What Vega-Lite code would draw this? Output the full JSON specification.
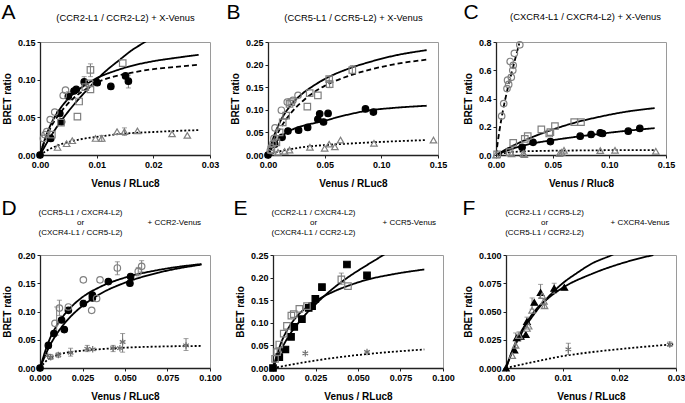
{
"$schema": "https://vega.github.io/schema/vega-lite/v6.json",
"padding": {"left": 0, "top": 0, "right": 0, "bottom": 0},
"autosize": {"type": "pad"},
"config": {
 "font": "Liberation Sans",
 "view": {"stroke": "#9a9a9a", "strokeWidth": 1},
 "axis": {"grid": false, "labelFont": "Liberation Sans", "labelFontSize": 9, "labelFontWeight": "bold", "labelColor": "#000", "titleFont": "Liberation Sans", "titleFontSize": 10, "titleFontWeight": "bold", "titleColor": "#000", "domainColor": "#222", "domainWidth": 1.3, "tickColor": "#222", "tickSize": 3, "labelPadding": 2, "labelFlush": false, "labelOverlap": false, "labelBound": false},
 "axisX": {"titlePadding": 9},
 "axisY": {"titlePadding": 5}
},
"datasets": {
"pts": [
{"p":"A","g":"fc","x":0,"y":0},{"p":"A","g":"fc","x":0.0019,"y":0.022},{"p":"A","g":"fc","x":0.0035,"y":0.055},{"p":"A","g":"fc","x":0.0038,"y":0.044},{"p":"A","g":"fc","x":0.005,"y":0.078},{"p":"A","g":"fc","x":0.006,"y":0.085},{"p":"A","g":"fc","x":0.0064,"y":0.087},{"p":"A","g":"fc","x":0.0078,"y":0.097},{"p":"A","g":"fc","x":0.0101,"y":0.096},{"p":"A","g":"fc","x":0.0125,"y":0.091},{"p":"A","g":"fc","x":0.0151,"y":0.105},{"p":"A","g":"fc","x":0.0156,"y":0.098},
{"p":"A","g":"oc","x":0.0006,"y":0.022},{"p":"A","g":"oc","x":0.0009,"y":0.027},{"p":"A","g":"oc","x":0.0012,"y":0.031},{"p":"A","g":"oc","x":0.0018,"y":0.047},{"p":"A","g":"oc","x":0.0026,"y":0.057},{"p":"A","g":"oc","x":0.0041,"y":0.079},{"p":"A","g":"oc","x":0.0045,"y":0.086},
{"p":"A","g":"os","x":0.0021,"y":0.027},{"p":"A","g":"os","x":0.0037,"y":0.043},{"p":"A","g":"os","x":0.0066,"y":0.051},{"p":"A","g":"os","x":0.0069,"y":0.071},{"p":"A","g":"os","x":0.008,"y":0.09},{"p":"A","g":"os","x":0.0087,"y":0.095},{"p":"A","g":"os","x":0.0089,"y":0.087},{"p":"A","g":"os","x":0.0089,"y":0.113},{"p":"A","g":"os","x":0.0146,"y":0.122},
{"p":"A","g":"ot","x":0.0031,"y":0.01},{"p":"A","g":"ot","x":0.0047,"y":0.015},{"p":"A","g":"ot","x":0.0057,"y":0.019},{"p":"A","g":"ot","x":0.0098,"y":0.022},{"p":"A","g":"ot","x":0.0109,"y":0.022},{"p":"A","g":"ot","x":0.0136,"y":0.031},{"p":"A","g":"ot","x":0.0149,"y":0.031},{"p":"A","g":"ot","x":0.0172,"y":0.032},{"p":"A","g":"ot","x":0.0233,"y":0.028},{"p":"A","g":"ot","x":0.026,"y":0.026},
{"p":"B","g":"fc","x":0,"y":0},{"p":"B","g":"fc","x":0.0059,"y":0.024},{"p":"B","g":"fc","x":0.0124,"y":0.039},{"p":"B","g":"fc","x":0.0176,"y":0.053},{"p":"B","g":"fc","x":0.027,"y":0.055},{"p":"B","g":"fc","x":0.035,"y":0.061},{"p":"B","g":"fc","x":0.044,"y":0.079},{"p":"B","g":"fc","x":0.0456,"y":0.091},{"p":"B","g":"fc","x":0.049,"y":0.073},{"p":"B","g":"fc","x":0.053,"y":0.092},{"p":"B","g":"fc","x":0.086,"y":0.102},{"p":"B","g":"fc","x":0.093,"y":0.095},
{"p":"B","g":"os","x":0.003,"y":0.012},{"p":"B","g":"os","x":0.0074,"y":0.028},{"p":"B","g":"os","x":0.0103,"y":0.05},{"p":"B","g":"os","x":0.013,"y":0.072},{"p":"B","g":"os","x":0.016,"y":0.087},{"p":"B","g":"os","x":0.019,"y":0.113},{"p":"B","g":"os","x":0.0206,"y":0.117},{"p":"B","g":"os","x":0.0347,"y":0.107},{"p":"B","g":"os","x":0.0368,"y":0.137},{"p":"B","g":"os","x":0.044,"y":0.132},{"p":"B","g":"os","x":0.0544,"y":0.157},{"p":"B","g":"os","x":0.054,"y":0.168},{"p":"B","g":"os","x":0.0744,"y":0.188},
{"p":"B","g":"oc","x":0.002,"y":0.01},{"p":"B","g":"oc","x":0.003,"y":0.017},{"p":"B","g":"oc","x":0.0044,"y":0.025},{"p":"B","g":"oc","x":0.0053,"y":0.037},{"p":"B","g":"oc","x":0.0062,"y":0.06},{"p":"B","g":"oc","x":0.0118,"y":0.099},{"p":"B","g":"oc","x":0.017,"y":0.117},{"p":"B","g":"oc","x":0.022,"y":0.121},{"p":"B","g":"oc","x":0.0265,"y":0.132},
{"p":"B","g":"ot","x":0.0088,"y":0.006},{"p":"B","g":"ot","x":0.0147,"y":0.008},{"p":"B","g":"ot","x":0.019,"y":0.011},{"p":"B","g":"ot","x":0.037,"y":0.017},{"p":"B","g":"ot","x":0.05,"y":0.015},{"p":"B","g":"ot","x":0.054,"y":0.024},{"p":"B","g":"ot","x":0.059,"y":0.018},{"p":"B","g":"ot","x":0.064,"y":0.033},{"p":"B","g":"ot","x":0.0935,"y":0.026},{"p":"B","g":"ot","x":0.146,"y":0.033},
{"p":"C","g":"oc","x":0.005,"y":0.276},{"p":"C","g":"oc","x":0.0068,"y":0.364},{"p":"C","g":"oc","x":0.0097,"y":0.47},{"p":"C","g":"oc","x":0.0102,"y":0.53},{"p":"C","g":"oc","x":0.0112,"y":0.5},{"p":"C","g":"oc","x":0.0125,"y":0.662},{"p":"C","g":"oc","x":0.0135,"y":0.55},{"p":"C","g":"oc","x":0.0148,"y":0.6},{"p":"C","g":"oc","x":0.0152,"y":0.635},{"p":"C","g":"oc","x":0.0162,"y":0.72},{"p":"C","g":"oc","x":0.021,"y":0.78},
{"p":"C","g":"fc","x":0.023,"y":0.055},{"p":"C","g":"fc","x":0.0327,"y":0.09},{"p":"C","g":"fc","x":0.048,"y":0.095},{"p":"C","g":"fc","x":0.0743,"y":0.133},{"p":"C","g":"fc","x":0.0839,"y":0.145},{"p":"C","g":"fc","x":0.092,"y":0.157},{"p":"C","g":"fc","x":0.094,"y":0.152},{"p":"C","g":"fc","x":0.1167,"y":0.169},{"p":"C","g":"fc","x":0.1269,"y":0.188},
{"p":"C","g":"os","x":0.001,"y":0.005},{"p":"C","g":"os","x":0.012,"y":0.02},{"p":"C","g":"os","x":0.0152,"y":0.086},{"p":"C","g":"os","x":0.0254,"y":0.114},{"p":"C","g":"os","x":0.028,"y":0.133},{"p":"C","g":"os","x":0.04,"y":0.181},{"p":"C","g":"os","x":0.047,"y":0.152},{"p":"C","g":"os","x":0.048,"y":0.162},{"p":"C","g":"os","x":0.052,"y":0.205},{"p":"C","g":"os","x":0.069,"y":0.233},{"p":"C","g":"os","x":0.075,"y":0.233},
{"p":"C","g":"ot","x":0,"y":0},{"p":"C","g":"ot","x":0.0137,"y":0.008},{"p":"C","g":"ot","x":0.024,"y":0.01},{"p":"C","g":"ot","x":0.025,"y":0.002},{"p":"C","g":"ot","x":0.056,"y":0.01},{"p":"C","g":"ot","x":0.058,"y":0.019},{"p":"C","g":"ot","x":0.06,"y":0.033},{"p":"C","g":"ot","x":0.092,"y":0.031},{"p":"C","g":"ot","x":0.105,"y":0.033},{"p":"C","g":"ot","x":0.141,"y":0.026},
{"p":"D","g":"fc","x":0,"y":0},{"p":"D","g":"fc","x":0.0049,"y":0.04},{"p":"D","g":"fc","x":0.0082,"y":0.061},{"p":"D","g":"fc","x":0.0127,"y":0.085},{"p":"D","g":"fc","x":0.0143,"y":0.068},{"p":"D","g":"fc","x":0.0167,"y":0.102},{"p":"D","g":"fc","x":0.0255,"y":0.114},{"p":"D","g":"fc","x":0.0308,"y":0.129},{"p":"D","g":"fc","x":0.0308,"y":0.124},{"p":"D","g":"fc","x":0.0402,"y":0.153},{"p":"D","g":"fc","x":0.0533,"y":0.162},{"p":"D","g":"fc","x":0.0529,"y":0.15},
{"p":"D","g":"oc","x":0.0088,"y":0.079},{"p":"D","g":"oc","x":0.0114,"y":0.106},{"p":"D","g":"oc","x":0.0167,"y":0.108},{"p":"D","g":"oc","x":0.0255,"y":0.156},{"p":"D","g":"oc","x":0.0304,"y":0.102},{"p":"D","g":"oc","x":0.0333,"y":0.123},{"p":"D","g":"oc","x":0.0353,"y":0.156},{"p":"D","g":"oc","x":0.0455,"y":0.177},{"p":"D","g":"oc","x":0.0578,"y":0.171},{"p":"D","g":"oc","x":0.0598,"y":0.18},
{"p":"D","g":"st","x":0.0045,"y":0.022},{"p":"D","g":"st","x":0.0063,"y":0.019},{"p":"D","g":"st","x":0.0108,"y":0.023},{"p":"D","g":"st","x":0.018,"y":0.027},{"p":"D","g":"st","x":0.0278,"y":0.034},{"p":"D","g":"st","x":0.031,"y":0.033},{"p":"D","g":"st","x":0.043,"y":0.035},{"p":"D","g":"st","x":0.047,"y":0.035},{"p":"D","g":"st","x":0.0486,"y":0.046},{"p":"D","g":"st","x":0.0859,"y":0.04},
{"p":"E","g":"fs","x":0,"y":0},{"p":"E","g":"fs","x":0.0037,"y":0.024},{"p":"E","g":"fs","x":0.0073,"y":0.041},{"p":"E","g":"fs","x":0.0106,"y":0.069},{"p":"E","g":"fs","x":0.0125,"y":0.091},{"p":"E","g":"fs","x":0.017,"y":0.108},{"p":"E","g":"fs","x":0.021,"y":0.133},{"p":"E","g":"fs","x":0.023,"y":0.137},{"p":"E","g":"fs","x":0.0249,"y":0.153},{"p":"E","g":"fs","x":0.0288,"y":0.179},{"p":"E","g":"fs","x":0.0435,"y":0.229},{"p":"E","g":"fs","x":0.0553,"y":0.205},
{"p":"E","g":"os","x":0.0012,"y":0.02},{"p":"E","g":"os","x":0.0024,"y":0.035},{"p":"E","g":"os","x":0.0037,"y":0.052},{"p":"E","g":"os","x":0.0063,"y":0.076},{"p":"E","g":"os","x":0.0082,"y":0.093},{"p":"E","g":"os","x":0.0108,"y":0.116},{"p":"E","g":"os","x":0.0122,"y":0.119},{"p":"E","g":"os","x":0.0155,"y":0.131},{"p":"E","g":"os","x":0.02,"y":0.137},{"p":"E","g":"os","x":0.0402,"y":0.196},{"p":"E","g":"os","x":0.0441,"y":0.181},
{"p":"E","g":"st","x":0.019,"y":0.0325},{"p":"E","g":"st","x":0.0553,"y":0.0354},
{"p":"F","g":"ft","x":0,"y":0},{"p":"F","g":"ft","x":0.0015,"y":0.0158},{"p":"F","g":"ft","x":0.0019,"y":0.0266},{"p":"F","g":"ft","x":0.0026,"y":0.028},{"p":"F","g":"ft","x":0.0035,"y":0.0295},{"p":"F","g":"ft","x":0.0037,"y":0.041},{"p":"F","g":"ft","x":0.005,"y":0.058},{"p":"F","g":"ft","x":0.0061,"y":0.0667},{"p":"F","g":"ft","x":0.0085,"y":0.0705},{"p":"F","g":"ft","x":0.0103,"y":0.0713},
{"p":"F","g":"ot","x":0.0011,"y":0.011},{"p":"F","g":"ot","x":0.0017,"y":0.02},{"p":"F","g":"ot","x":0.0023,"y":0.0287},{"p":"F","g":"ot","x":0.0037,"y":0.035},{"p":"F","g":"ot","x":0.004,"y":0.037},{"p":"F","g":"ot","x":0.0046,"y":0.051},{"p":"F","g":"ot","x":0.0067,"y":0.059},{"p":"F","g":"ot","x":0.0068,"y":0.055},{"p":"F","g":"ot","x":0.0064,"y":0.064},
{"p":"F","g":"st","x":0.011,"y":0.0164},{"p":"F","g":"st","x":0.0289,"y":0.0208}
],
"err": [
{"p":"A","x":0.0089,"lo":0.104,"hi":0.121},{"p":"A","x":0.0156,"lo":0.089,"hi":0.106},{"p":"A","x":0.0149,"lo":0.026,"hi":0.036},{"p":"A","x":0.0109,"lo":0.018,"hi":0.026},{"p":"A","x":0.005,"lo":0.073,"hi":0.084},{"p":"A","x":0.0078,"lo":0.092,"hi":0.104},
{"p":"B","x":0.0544,"lo":0.149,"hi":0.165},{"p":"B","x":0.0744,"lo":0.18,"hi":0.198},{"p":"B","x":0.054,"lo":0.162,"hi":0.174},
{"p":"C","x":0.0839,"lo":0.125,"hi":0.168},
{"p":"D","x":0.0114,"lo":0.093,"hi":0.12},{"p":"D","x":0.0098,"lo":0.058,"hi":0.108},{"p":"D","x":0.0455,"lo":0.165,"hi":0.188},{"p":"D","x":0.0598,"lo":0.17,"hi":0.19},{"p":"D","x":0.0486,"lo":0.028,"hi":0.061},{"p":"D","x":0.0859,"lo":0.031,"hi":0.052},{"p":"D","x":0.018,"lo":0.021,"hi":0.035},{"p":"D","x":0.0278,"lo":0.029,"hi":0.04},{"p":"D","x":0.0063,"lo":0.015,"hi":0.024},{"p":"D","x":0.0108,"lo":0.019,"hi":0.027},{"p":"D","x":0.043,"lo":0.029,"hi":0.04},{"p":"D","x":0.0578,"lo":0.163,"hi":0.178},{"p":"D","x":0.0143,"lo":0.063,"hi":0.072},{"p":"D","x":0.0255,"lo":0.109,"hi":0.12},
{"p":"E","x":0.0402,"lo":0.185,"hi":0.21},{"p":"E","x":0.0024,"lo":0.027,"hi":0.044},
{"p":"F","x":0.0061,"lo":0.062,"hi":0.074},{"p":"F","x":0.0085,"lo":0.066,"hi":0.075},{"p":"F","x":0.0046,"lo":0.052,"hi":0.062},{"p":"F","x":0.0068,"lo":0.053,"hi":0.061},{"p":"F","x":0.011,"lo":0.012,"hi":0.022},{"p":"F","x":0.0289,"lo":0.019,"hi":0.023},{"p":"F","x":0.0023,"lo":0.024,"hi":0.032},{"p":"F","x":0.0037,"lo":0.036,"hi":0.045},{"p":"F","x":0.0017,"lo":0.018,"hi":0.031}
],
"cur": [
{"p":"A","c":"A1","d":"s","x":0,"y":0},{"p":"A","c":"A1","d":"s","x":0.002,"y":0.026},{"p":"A","c":"A1","d":"s","x":0.004,"y":0.048},{"p":"A","c":"A1","d":"s","x":0.006,"y":0.067},{"p":"A","c":"A1","d":"s","x":0.008,"y":0.084},{"p":"A","c":"A1","d":"s","x":0.01,"y":0.1},{"p":"A","c":"A1","d":"s","x":0.012,"y":0.114},{"p":"A","c":"A1","d":"s","x":0.014,"y":0.126},{"p":"A","c":"A1","d":"s","x":0.016,"y":0.138},{"p":"A","c":"A1","d":"s","x":0.0185,"y":0.15},{"p":"A","c":"A1","d":"s","x":0.0195,"y":0.155},
{"p":"A","c":"A2","d":"s","x":0,"y":0},{"p":"A","c":"A2","d":"s","x":0.001,"y":0.024},{"p":"A","c":"A2","d":"s","x":0.002,"y":0.042},{"p":"A","c":"A2","d":"s","x":0.004,"y":0.066},{"p":"A","c":"A2","d":"s","x":0.006,"y":0.082},{"p":"A","c":"A2","d":"s","x":0.008,"y":0.093},{"p":"A","c":"A2","d":"s","x":0.01,"y":0.102},{"p":"A","c":"A2","d":"s","x":0.013,"y":0.111},{"p":"A","c":"A2","d":"s","x":0.016,"y":0.118},{"p":"A","c":"A2","d":"s","x":0.02,"y":0.1245},{"p":"A","c":"A2","d":"s","x":0.024,"y":0.129},{"p":"A","c":"A2","d":"s","x":0.028,"y":0.133},
{"p":"A","c":"A3","d":"d","x":0,"y":0},{"p":"A","c":"A3","d":"d","x":0.001,"y":0.022},{"p":"A","c":"A3","d":"d","x":0.002,"y":0.038},{"p":"A","c":"A3","d":"d","x":0.004,"y":0.06},{"p":"A","c":"A3","d":"d","x":0.006,"y":0.076},{"p":"A","c":"A3","d":"d","x":0.008,"y":0.087},{"p":"A","c":"A3","d":"d","x":0.01,"y":0.096},{"p":"A","c":"A3","d":"d","x":0.013,"y":0.104},{"p":"A","c":"A3","d":"d","x":0.016,"y":0.109},{"p":"A","c":"A3","d":"d","x":0.02,"y":0.114},{"p":"A","c":"A3","d":"d","x":0.024,"y":0.117},{"p":"A","c":"A3","d":"d","x":0.028,"y":0.12},
{"p":"A","c":"A4","d":"o","x":0,"y":0},{"p":"A","c":"A4","d":"o","x":0.001,"y":0.005},{"p":"A","c":"A4","d":"o","x":0.002,"y":0.009},{"p":"A","c":"A4","d":"o","x":0.004,"y":0.015},{"p":"A","c":"A4","d":"o","x":0.006,"y":0.019},{"p":"A","c":"A4","d":"o","x":0.008,"y":0.022},{"p":"A","c":"A4","d":"o","x":0.01,"y":0.024},{"p":"A","c":"A4","d":"o","x":0.013,"y":0.027},{"p":"A","c":"A4","d":"o","x":0.016,"y":0.029},{"p":"A","c":"A4","d":"o","x":0.02,"y":0.0305},{"p":"A","c":"A4","d":"o","x":0.024,"y":0.032},{"p":"A","c":"A4","d":"o","x":0.028,"y":0.033},
{"p":"B","c":"B1","d":"s","x":0,"y":0},{"p":"B","c":"B1","d":"s","x":0.005,"y":0.04},{"p":"B","c":"B1","d":"s","x":0.01,"y":0.07},{"p":"B","c":"B1","d":"s","x":0.02,"y":0.11},{"p":"B","c":"B1","d":"s","x":0.03,"y":0.135},{"p":"B","c":"B1","d":"s","x":0.04,"y":0.153},{"p":"B","c":"B1","d":"s","x":0.05,"y":0.168},{"p":"B","c":"B1","d":"s","x":0.07,"y":0.19},{"p":"B","c":"B1","d":"s","x":0.09,"y":0.206},{"p":"B","c":"B1","d":"s","x":0.11,"y":0.219},{"p":"B","c":"B1","d":"s","x":0.14,"y":0.232},
{"p":"B","c":"B2","d":"d","x":0,"y":0},{"p":"B","c":"B2","d":"d","x":0.005,"y":0.03},{"p":"B","c":"B2","d":"d","x":0.01,"y":0.055},{"p":"B","c":"B2","d":"d","x":0.02,"y":0.092},{"p":"B","c":"B2","d":"d","x":0.03,"y":0.118},{"p":"B","c":"B2","d":"d","x":0.04,"y":0.138},{"p":"B","c":"B2","d":"d","x":0.05,"y":0.153},{"p":"B","c":"B2","d":"d","x":0.07,"y":0.174},{"p":"B","c":"B2","d":"d","x":0.09,"y":0.189},{"p":"B","c":"B2","d":"d","x":0.11,"y":0.2},{"p":"B","c":"B2","d":"d","x":0.14,"y":0.211},
{"p":"B","c":"B3","d":"s","x":0,"y":0},{"p":"B","c":"B3","d":"s","x":0.006,"y":0.025},{"p":"B","c":"B3","d":"s","x":0.012,"y":0.041},{"p":"B","c":"B3","d":"s","x":0.018,"y":0.052},{"p":"B","c":"B3","d":"s","x":0.025,"y":0.06},{"p":"B","c":"B3","d":"s","x":0.035,"y":0.067},{"p":"B","c":"B3","d":"s","x":0.05,"y":0.076},{"p":"B","c":"B3","d":"s","x":0.07,"y":0.089},{"p":"B","c":"B3","d":"s","x":0.09,"y":0.099},{"p":"B","c":"B3","d":"s","x":0.11,"y":0.104},{"p":"B","c":"B3","d":"s","x":0.14,"y":0.109},
{"p":"B","c":"B4","d":"o","x":0,"y":0},{"p":"B","c":"B4","d":"o","x":0.01,"y":0.008},{"p":"B","c":"B4","d":"o","x":0.02,"y":0.013},{"p":"B","c":"B4","d":"o","x":0.03,"y":0.017},{"p":"B","c":"B4","d":"o","x":0.05,"y":0.022},{"p":"B","c":"B4","d":"o","x":0.07,"y":0.025},{"p":"B","c":"B4","d":"o","x":0.1,"y":0.029},{"p":"B","c":"B4","d":"o","x":0.14,"y":0.033},
{"p":"C","c":"C1","d":"d","x":0,"y":0},{"p":"C","c":"C1","d":"d","x":0.003,"y":0.17},{"p":"C","c":"C1","d":"d","x":0.006,"y":0.31},{"p":"C","c":"C1","d":"d","x":0.01,"y":0.46},{"p":"C","c":"C1","d":"d","x":0.015,"y":0.62},{"p":"C","c":"C1","d":"d","x":0.0205,"y":0.79},
{"p":"C","c":"C2","d":"s","x":0,"y":0},{"p":"C","c":"C2","d":"s","x":0.01,"y":0.045},{"p":"C","c":"C2","d":"s","x":0.02,"y":0.085},{"p":"C","c":"C2","d":"s","x":0.03,"y":0.12},{"p":"C","c":"C2","d":"s","x":0.05,"y":0.18},{"p":"C","c":"C2","d":"s","x":0.07,"y":0.23},{"p":"C","c":"C2","d":"s","x":0.09,"y":0.268},{"p":"C","c":"C2","d":"s","x":0.11,"y":0.3},{"p":"C","c":"C2","d":"s","x":0.14,"y":0.332},
{"p":"C","c":"C3","d":"s","x":0,"y":0},{"p":"C","c":"C3","d":"s","x":0.01,"y":0.032},{"p":"C","c":"C3","d":"s","x":0.02,"y":0.058},{"p":"C","c":"C3","d":"s","x":0.03,"y":0.078},{"p":"C","c":"C3","d":"s","x":0.05,"y":0.105},{"p":"C","c":"C3","d":"s","x":0.07,"y":0.128},{"p":"C","c":"C3","d":"s","x":0.09,"y":0.148},{"p":"C","c":"C3","d":"s","x":0.11,"y":0.167},{"p":"C","c":"C3","d":"s","x":0.14,"y":0.19},
{"p":"C","c":"C4","d":"o","x":0,"y":0},{"p":"C","c":"C4","d":"o","x":0.01,"y":0.017},{"p":"C","c":"C4","d":"o","x":0.02,"y":0.024},{"p":"C","c":"C4","d":"o","x":0.04,"y":0.029},{"p":"C","c":"C4","d":"o","x":0.07,"y":0.032},{"p":"C","c":"C4","d":"o","x":0.1,"y":0.034},{"p":"C","c":"C4","d":"o","x":0.14,"y":0.035},
{"p":"D","c":"D1","d":"s","x":0,"y":0},{"p":"D","c":"D1","d":"s","x":0.005,"y":0.046},{"p":"D","c":"D1","d":"s","x":0.01,"y":0.076},{"p":"D","c":"D1","d":"s","x":0.015,"y":0.097},{"p":"D","c":"D1","d":"s","x":0.02,"y":0.113},{"p":"D","c":"D1","d":"s","x":0.025,"y":0.1255},{"p":"D","c":"D1","d":"s","x":0.035,"y":0.143},{"p":"D","c":"D1","d":"s","x":0.05,"y":0.16},{"p":"D","c":"D1","d":"s","x":0.07,"y":0.1737},{"p":"D","c":"D1","d":"s","x":0.095,"y":0.184},
{"p":"D","c":"D2","d":"s","x":0,"y":0},{"p":"D","c":"D2","d":"s","x":0.005,"y":0.035},{"p":"D","c":"D2","d":"s","x":0.01,"y":0.061},{"p":"D","c":"D2","d":"s","x":0.015,"y":0.081},{"p":"D","c":"D2","d":"s","x":0.02,"y":0.097},{"p":"D","c":"D2","d":"s","x":0.025,"y":0.11},{"p":"D","c":"D2","d":"s","x":0.035,"y":0.1305},{"p":"D","c":"D2","d":"s","x":0.05,"y":0.151},{"p":"D","c":"D2","d":"s","x":0.07,"y":0.169},{"p":"D","c":"D2","d":"s","x":0.095,"y":0.183},
{"p":"D","c":"D3","d":"o","x":0,"y":0},{"p":"D","c":"D3","d":"o","x":0.005,"y":0.016},{"p":"D","c":"D3","d":"o","x":0.01,"y":0.023},{"p":"D","c":"D3","d":"o","x":0.02,"y":0.029},{"p":"D","c":"D3","d":"o","x":0.03,"y":0.032},{"p":"D","c":"D3","d":"o","x":0.05,"y":0.036},{"p":"D","c":"D3","d":"o","x":0.07,"y":0.038},{"p":"D","c":"D3","d":"o","x":0.095,"y":0.039},
{"p":"E","c":"E1","d":"s","x":0,"y":0},{"p":"E","c":"E1","d":"s","x":0.005,"y":0.042},{"p":"E","c":"E1","d":"s","x":0.01,"y":0.075},{"p":"E","c":"E1","d":"s","x":0.015,"y":0.1},{"p":"E","c":"E1","d":"s","x":0.02,"y":0.122},{"p":"E","c":"E1","d":"s","x":0.025,"y":0.141},{"p":"E","c":"E1","d":"s","x":0.035,"y":0.175},{"p":"E","c":"E1","d":"s","x":0.045,"y":0.203},{"p":"E","c":"E1","d":"s","x":0.055,"y":0.227},{"p":"E","c":"E1","d":"s","x":0.0645,"y":0.249},{"p":"E","c":"E1","d":"s","x":0.067,"y":0.255},
{"p":"E","c":"E2","d":"s","x":0,"y":0},{"p":"E","c":"E2","d":"s","x":0.005,"y":0.058},{"p":"E","c":"E2","d":"s","x":0.01,"y":0.094},{"p":"E","c":"E2","d":"s","x":0.015,"y":0.118},{"p":"E","c":"E2","d":"s","x":0.02,"y":0.135},{"p":"E","c":"E2","d":"s","x":0.025,"y":0.148},{"p":"E","c":"E2","d":"s","x":0.035,"y":0.168},{"p":"E","c":"E2","d":"s","x":0.045,"y":0.183},{"p":"E","c":"E2","d":"s","x":0.055,"y":0.195},{"p":"E","c":"E2","d":"s","x":0.07,"y":0.207},{"p":"E","c":"E2","d":"s","x":0.089,"y":0.218},
{"p":"E","c":"E3","d":"o","x":0,"y":0},{"p":"E","c":"E3","d":"o","x":0.02,"y":0.0135},{"p":"E","c":"E3","d":"o","x":0.04,"y":0.0245},{"p":"E","c":"E3","d":"o","x":0.06,"y":0.0325},{"p":"E","c":"E3","d":"o","x":0.089,"y":0.041},
{"p":"F","c":"F1","d":"s","x":0,"y":0},{"p":"F","c":"F1","d":"s","x":0.001,"y":0.013},{"p":"F","c":"F1","d":"s","x":0.002,"y":0.024},{"p":"F","c":"F1","d":"s","x":0.003,"y":0.033},{"p":"F","c":"F1","d":"s","x":0.005,"y":0.048},{"p":"F","c":"F1","d":"s","x":0.0075,"y":0.063},{"p":"F","c":"F1","d":"s","x":0.01,"y":0.075},{"p":"F","c":"F1","d":"s","x":0.0125,"y":0.084},{"p":"F","c":"F1","d":"s","x":0.015,"y":0.092},{"p":"F","c":"F1","d":"s","x":0.0187,"y":0.1},{"p":"F","c":"F1","d":"s","x":0.02,"y":0.103},
{"p":"F","c":"F2","d":"s","x":0,"y":0},{"p":"F","c":"F2","d":"s","x":0.001,"y":0.014},{"p":"F","c":"F2","d":"s","x":0.002,"y":0.026},{"p":"F","c":"F2","d":"s","x":0.003,"y":0.035},{"p":"F","c":"F2","d":"s","x":0.005,"y":0.05},{"p":"F","c":"F2","d":"s","x":0.0075,"y":0.062},{"p":"F","c":"F2","d":"s","x":0.01,"y":0.071},{"p":"F","c":"F2","d":"s","x":0.015,"y":0.083},{"p":"F","c":"F2","d":"s","x":0.02,"y":0.092},{"p":"F","c":"F2","d":"s","x":0.026,"y":0.1},
{"p":"F","c":"F3","d":"o","x":0,"y":0},{"p":"F","c":"F3","d":"o","x":0.005,"y":0.0055},{"p":"F","c":"F3","d":"o","x":0.01,"y":0.0105},{"p":"F","c":"F3","d":"o","x":0.015,"y":0.014},{"p":"F","c":"F3","d":"o","x":0.02,"y":0.0167},{"p":"F","c":"F3","d":"o","x":0.0295,"y":0.021}
]
},
"spacing": 7,
"vconcat": [
{"hconcat": [
 {"width": 170, "height": 113,
  "layer": [
   {"data": {"name": "cur"}, "transform": [{"filter": "datum.p==='A'"}],
    "mark": {"type": "line", "interpolate": "monotone", "clip": true, "color": "#000", "strokeWidth": 1.8},
    "encoding": {
     "x": {"field": "x", "type": "quantitative", "scale": {"domain": [0, 0.03], "nice": false}, "axis": {"orient": "top", "title": "(CCR2-L1 / CCR2-L2) + X-Venus", "labels": false, "ticks": false, "domain": false, "titleX": 85, "titleY": -25, "titleAlign": "center", "titleBaseline": "middle", "titleFontWeight": "normal", "titleFontSize": 9.4}},
     "y": {"field": "y", "type": "quantitative", "scale": {"domain": [0, 0.15], "nice": false}, "axis": {"orient": "right", "title": "A", "labels": false, "ticks": false, "domain": false, "titleAngle": 0, "titleX": -209, "titleY": -30, "titleAlign": "left", "titleBaseline": "middle", "titleFontWeight": "normal", "titleFontSize": 21}},
     "detail": {"field": "c"},
     "strokeDash": {"field": "d", "type": "nominal", "scale": {"domain": ["s", "d", "o"], "range": [[1, 0], [5, 3], [2, 2]]}, "legend": null}}},
   {"data": {"name": "err"}, "transform": [{"filter": "datum.p==='A'"}],
    "mark": {"type": "errorbar", "ticks": true, "color": "#777", "thickness": 1},
    "encoding": {
     "x": {"field": "x", "type": "quantitative", "scale": {"domain": [0, 0.03], "nice": false}, "axis": null},
     "y": {"field": "lo", "type": "quantitative", "scale": {"domain": [0, 0.15], "nice": false}, "axis": null},
     "y2": {"field": "hi"}}},
   {"data": {"name": "pts"}, "transform": [{"filter": "datum.p==='A'"}],
    "mark": {"type": "point", "size": 42, "strokeWidth": 1.2, "opacity": 1},
    "encoding": {
     "x": {"field": "x", "type": "quantitative", "scale": {"domain": [0, 0.03], "nice": false}, "axis": {"orient": "bottom", "values": [0, 0.01, 0.02, 0.03], "format": ".2f", "title": "Venus / RLuc8"}},
     "y": {"field": "y", "type": "quantitative", "scale": {"domain": [0, 0.15], "nice": false}, "axis": {"orient": "left", "values": [0, 0.05, 0.1, 0.15], "format": ".2f", "title": "BRET ratio"}},
     "shape": {"field": "g", "type": "nominal", "scale": {"domain": ["fc","oc","os","fs","ot","ft","st"], "range": ["circle","circle","square","square","triangle-up","triangle-up","M0,-1L0,1M-0.87,-0.5L0.87,0.5M-0.87,0.5L0.87,-0.5"]}, "legend": null},
     "fill": {"field": "g", "type": "nominal", "scale": {"domain": ["fc","oc","os","fs","ot","ft","st"], "range": ["#000","transparent","transparent","#000","transparent","#000","transparent"]}, "legend": null},
     "stroke": {"field": "g", "type": "nominal", "scale": {"domain": ["fc","oc","os","fs","ot","ft","st"], "range": ["#000","#808080","#808080","#000","#808080","#000","#707070"]}, "legend": null}}}
  ]},
 {"width": 170, "height": 113,
  "layer": [
   {"data": {"name": "cur"}, "transform": [{"filter": "datum.p==='B'"}],
    "mark": {"type": "line", "interpolate": "monotone", "clip": true, "color": "#000", "strokeWidth": 1.8},
    "encoding": {
     "x": {"field": "x", "type": "quantitative", "scale": {"domain": [0, 0.15], "nice": false}, "axis": {"orient": "top", "title": "(CCR5-L1 / CCR5-L2) + X-Venus", "labels": false, "ticks": false, "domain": false, "titleX": 85, "titleY": -25, "titleAlign": "center", "titleBaseline": "middle", "titleFontWeight": "normal", "titleFontSize": 9.4}},
     "y": {"field": "y", "type": "quantitative", "scale": {"domain": [0, 0.25], "nice": false}, "axis": {"orient": "right", "title": "B", "labels": false, "ticks": false, "domain": false, "titleAngle": 0, "titleX": -212, "titleY": -30, "titleAlign": "left", "titleBaseline": "middle", "titleFontWeight": "normal", "titleFontSize": 21}},
     "detail": {"field": "c"},
     "strokeDash": {"field": "d", "type": "nominal", "scale": {"domain": ["s", "d", "o"], "range": [[1, 0], [5, 3], [2, 2]]}, "legend": null}}},
   {"data": {"name": "err"}, "transform": [{"filter": "datum.p==='B'"}],
    "mark": {"type": "errorbar", "ticks": true, "color": "#777", "thickness": 1},
    "encoding": {
     "x": {"field": "x", "type": "quantitative", "scale": {"domain": [0, 0.15], "nice": false}, "axis": null},
     "y": {"field": "lo", "type": "quantitative", "scale": {"domain": [0, 0.25], "nice": false}, "axis": null},
     "y2": {"field": "hi"}}},
   {"data": {"name": "pts"}, "transform": [{"filter": "datum.p==='B'"}],
    "mark": {"type": "point", "size": 42, "strokeWidth": 1.2, "opacity": 1},
    "encoding": {
     "x": {"field": "x", "type": "quantitative", "scale": {"domain": [0, 0.15], "nice": false}, "axis": {"orient": "bottom", "values": [0, 0.05, 0.1, 0.15], "format": ".2f", "title": "Venus / RLuc8"}},
     "y": {"field": "y", "type": "quantitative", "scale": {"domain": [0, 0.25], "nice": false}, "axis": {"orient": "left", "values": [0, 0.05, 0.1, 0.15, 0.2, 0.25], "format": ".2f", "title": "BRET ratio"}},
     "shape": {"field": "g", "type": "nominal", "scale": {"domain": ["fc","oc","os","fs","ot","ft","st"], "range": ["circle","circle","square","square","triangle-up","triangle-up","M0,-1L0,1M-0.87,-0.5L0.87,0.5M-0.87,0.5L0.87,-0.5"]}, "legend": null},
     "fill": {"field": "g", "type": "nominal", "scale": {"domain": ["fc","oc","os","fs","ot","ft","st"], "range": ["#000","transparent","transparent","#000","transparent","#000","transparent"]}, "legend": null},
     "stroke": {"field": "g", "type": "nominal", "scale": {"domain": ["fc","oc","os","fs","ot","ft","st"], "range": ["#000","#808080","#808080","#000","#808080","#000","#707070"]}, "legend": null}}}
  ]},
 {"width": 170, "height": 113,
  "layer": [
   {"data": {"name": "cur"}, "transform": [{"filter": "datum.p==='C'"}],
    "mark": {"type": "line", "interpolate": "monotone", "clip": true, "color": "#000", "strokeWidth": 1.8},
    "encoding": {
     "x": {"field": "x", "type": "quantitative", "scale": {"domain": [0, 0.15], "nice": false}, "axis": {"orient": "top", "title": "(CXCR4-L1 / CXCR4-L2) + X-Venus", "labels": false, "ticks": false, "domain": false, "titleX": 89, "titleY": -26, "titleAlign": "center", "titleBaseline": "middle", "titleFontWeight": "normal", "titleFontSize": 9.4}},
     "y": {"field": "y", "type": "quantitative", "scale": {"domain": [0, 0.8], "nice": false}, "axis": {"orient": "right", "title": "C", "labels": false, "ticks": false, "domain": false, "titleAngle": 0, "titleX": -203, "titleY": -30, "titleAlign": "left", "titleBaseline": "middle", "titleFontWeight": "normal", "titleFontSize": 21}},
     "detail": {"field": "c"},
     "strokeDash": {"field": "d", "type": "nominal", "scale": {"domain": ["s", "d", "o"], "range": [[1, 0], [5, 3], [2, 2]]}, "legend": null}}},
   {"data": {"name": "err"}, "transform": [{"filter": "datum.p==='C'"}],
    "mark": {"type": "errorbar", "ticks": true, "color": "#777", "thickness": 1},
    "encoding": {
     "x": {"field": "x", "type": "quantitative", "scale": {"domain": [0, 0.15], "nice": false}, "axis": null},
     "y": {"field": "lo", "type": "quantitative", "scale": {"domain": [0, 0.8], "nice": false}, "axis": null},
     "y2": {"field": "hi"}}},
   {"data": {"name": "pts"}, "transform": [{"filter": "datum.p==='C'"}],
    "mark": {"type": "point", "size": 42, "strokeWidth": 1.2, "opacity": 1},
    "encoding": {
     "x": {"field": "x", "type": "quantitative", "scale": {"domain": [0, 0.15], "nice": false}, "axis": {"orient": "bottom", "values": [0, 0.05, 0.1, 0.15], "format": ".2f", "title": "Venus / Rluc8"}},
     "y": {"field": "y", "type": "quantitative", "scale": {"domain": [0, 0.8], "nice": false}, "axis": {"orient": "left", "values": [0, 0.2, 0.4, 0.6, 0.8], "format": ".1f", "title": "BRET ratio"}},
     "shape": {"field": "g", "type": "nominal", "scale": {"domain": ["fc","oc","os","fs","ot","ft","st"], "range": ["circle","circle","square","square","triangle-up","triangle-up","M0,-1L0,1M-0.87,-0.5L0.87,0.5M-0.87,0.5L0.87,-0.5"]}, "legend": null},
     "fill": {"field": "g", "type": "nominal", "scale": {"domain": ["fc","oc","os","fs","ot","ft","st"], "range": ["#000","transparent","transparent","#000","transparent","#000","transparent"]}, "legend": null},
     "stroke": {"field": "g", "type": "nominal", "scale": {"domain": ["fc","oc","os","fs","ot","ft","st"], "range": ["#000","#808080","#808080","#000","#808080","#000","#707070"]}, "legend": null}}}
  ]}
 ], "spacing": 58, "bounds": "flush"},
{"hconcat": [
 {"width": 170, "height": 113,
  "layer": [
   {"data": {"name": "cur"}, "transform": [{"filter": "datum.p==='D'"}],
    "mark": {"type": "line", "interpolate": "monotone", "clip": true, "color": "#000", "strokeWidth": 1.8},
    "encoding": {
     "x": {"field": "x", "type": "quantitative", "scale": {"domain": [0, 0.1], "nice": false}, "axis": {"orient": "top", "title": ["(CCR5-L1 / CXCR4-L2)", "or", "(CXCR4-L1 / CCR5-L2)"], "titleLineHeight": 10, "labels": false, "ticks": false, "domain": false, "titleX": 40, "titleY": -43, "titleAlign": "center", "titleBaseline": "middle", "titleFontWeight": "normal", "titleFontSize": 8}},
     "y": {"field": "y", "type": "quantitative", "scale": {"domain": [0, 0.2], "nice": false}, "axis": {"orient": "right", "title": "D", "labels": false, "ticks": false, "domain": false, "titleAngle": 0, "titleX": -209, "titleY": -47, "titleAlign": "left", "titleBaseline": "middle", "titleFontWeight": "normal", "titleFontSize": 21}},
     "detail": {"field": "c"},
     "strokeDash": {"field": "d", "type": "nominal", "scale": {"domain": ["s", "d", "o"], "range": [[1, 0], [5, 3], [2, 2]]}, "legend": null}}},
   {"data": {"name": "err"}, "transform": [{"filter": "datum.p==='D'"}],
    "mark": {"type": "errorbar", "ticks": true, "color": "#777", "thickness": 1},
    "encoding": {
     "x": {"field": "x", "type": "quantitative", "scale": {"domain": [0, 0.1], "nice": false}, "axis": null},
     "y": {"field": "lo", "type": "quantitative", "scale": {"domain": [0, 0.2], "nice": false}, "axis": {"orient": "right", "title": "+ CCR2-Venus", "labels": false, "ticks": false, "domain": false, "titleAngle": 0, "titleX": -63, "titleY": -33, "titleAlign": "left", "titleBaseline": "middle", "titleFontWeight": "normal", "titleFontSize": 8}},
     "y2": {"field": "hi"}}},
   {"data": {"name": "pts"}, "transform": [{"filter": "datum.p==='D'"}],
    "mark": {"type": "point", "size": 42, "strokeWidth": 1.2, "opacity": 1},
    "encoding": {
     "x": {"field": "x", "type": "quantitative", "scale": {"domain": [0, 0.1], "nice": false}, "axis": {"orient": "bottom", "values": [0, 0.025, 0.05, 0.075, 0.1], "format": ".3f", "title": "Venus / RLuc8"}},
     "y": {"field": "y", "type": "quantitative", "scale": {"domain": [0, 0.2], "nice": false}, "axis": {"orient": "left", "values": [0, 0.05, 0.1, 0.15, 0.2], "format": ".2f", "title": "BRET ratio"}},
     "shape": {"field": "g", "type": "nominal", "scale": {"domain": ["fc","oc","os","fs","ot","ft","st"], "range": ["circle","circle","square","square","triangle-up","triangle-up","M0,-1L0,1M-0.87,-0.5L0.87,0.5M-0.87,0.5L0.87,-0.5"]}, "legend": null},
     "fill": {"field": "g", "type": "nominal", "scale": {"domain": ["fc","oc","os","fs","ot","ft","st"], "range": ["#000","transparent","transparent","#000","transparent","#000","transparent"]}, "legend": null},
     "stroke": {"field": "g", "type": "nominal", "scale": {"domain": ["fc","oc","os","fs","ot","ft","st"], "range": ["#000","#808080","#808080","#000","#808080","#000","#707070"]}, "legend": null}}}
  ]},
 {"width": 170, "height": 113,
  "layer": [
   {"data": {"name": "cur"}, "transform": [{"filter": "datum.p==='E'"}],
    "mark": {"type": "line", "interpolate": "monotone", "clip": true, "color": "#000", "strokeWidth": 1.8},
    "encoding": {
     "x": {"field": "x", "type": "quantitative", "scale": {"domain": [0, 0.1], "nice": false}, "axis": {"orient": "top", "title": ["(CCR2-L1 / CXCR4-L2)", "or", "(CXCR4-L1 / CCR2-L2)"], "titleLineHeight": 10, "labels": false, "ticks": false, "domain": false, "titleX": 40, "titleY": -43, "titleAlign": "center", "titleBaseline": "middle", "titleFontWeight": "normal", "titleFontSize": 8}},
     "y": {"field": "y", "type": "quantitative", "scale": {"domain": [0, 0.25], "nice": false}, "axis": {"orient": "right", "title": "E", "labels": false, "ticks": false, "domain": false, "titleAngle": 0, "titleX": -210, "titleY": -47, "titleAlign": "left", "titleBaseline": "middle", "titleFontWeight": "normal", "titleFontSize": 21}},
     "detail": {"field": "c"},
     "strokeDash": {"field": "d", "type": "nominal", "scale": {"domain": ["s", "d", "o"], "range": [[1, 0], [5, 3], [2, 2]]}, "legend": null}}},
   {"data": {"name": "err"}, "transform": [{"filter": "datum.p==='E'"}],
    "mark": {"type": "errorbar", "ticks": true, "color": "#777", "thickness": 1},
    "encoding": {
     "x": {"field": "x", "type": "quantitative", "scale": {"domain": [0, 0.1], "nice": false}, "axis": null},
     "y": {"field": "lo", "type": "quantitative", "scale": {"domain": [0, 0.25], "nice": false}, "axis": {"orient": "right", "title": "+ CCR5-Venus", "labels": false, "ticks": false, "domain": false, "titleAngle": 0, "titleX": -61, "titleY": -33, "titleAlign": "left", "titleBaseline": "middle", "titleFontWeight": "normal", "titleFontSize": 8}},
     "y2": {"field": "hi"}}},
   {"data": {"name": "pts"}, "transform": [{"filter": "datum.p==='E'"}],
    "mark": {"type": "point", "size": 42, "strokeWidth": 1.2, "opacity": 1},
    "encoding": {
     "x": {"field": "x", "type": "quantitative", "scale": {"domain": [0, 0.1], "nice": false}, "axis": {"orient": "bottom", "values": [0, 0.025, 0.05, 0.075, 0.1], "format": ".3f", "title": "Venus / RLuc8"}},
     "y": {"field": "y", "type": "quantitative", "scale": {"domain": [0, 0.25], "nice": false}, "axis": {"orient": "left", "values": [0, 0.05, 0.1, 0.15, 0.2, 0.25], "format": ".2f", "title": "BRET ratio"}},
     "shape": {"field": "g", "type": "nominal", "scale": {"domain": ["fc","oc","os","fs","ot","ft","st"], "range": ["circle","circle","square","square","triangle-up","triangle-up","M0,-1L0,1M-0.87,-0.5L0.87,0.5M-0.87,0.5L0.87,-0.5"]}, "legend": null},
     "fill": {"field": "g", "type": "nominal", "scale": {"domain": ["fc","oc","os","fs","ot","ft","st"], "range": ["#000","transparent","transparent","#000","transparent","#000","transparent"]}, "legend": null},
     "stroke": {"field": "g", "type": "nominal", "scale": {"domain": ["fc","oc","os","fs","ot","ft","st"], "range": ["#000","#808080","#808080","#000","#808080","#000","#707070"]}, "legend": null}}}
  ]},
 {"width": 170, "height": 113,
  "layer": [
   {"data": {"name": "cur"}, "transform": [{"filter": "datum.p==='F'"}],
    "mark": {"type": "line", "interpolate": "monotone", "clip": true, "color": "#000", "strokeWidth": 1.8},
    "encoding": {
     "x": {"field": "x", "type": "quantitative", "scale": {"domain": [0, 0.03], "nice": false}, "axis": {"orient": "top", "title": ["(CCR2-L1 / CCR5-L2)", "or", "(CCR5-L1 / CCR2-L2)"], "titleLineHeight": 10, "labels": false, "ticks": false, "domain": false, "titleX": 38, "titleY": -43, "titleAlign": "center", "titleBaseline": "middle", "titleFontWeight": "normal", "titleFontSize": 8}},
     "y": {"field": "y", "type": "quantitative", "scale": {"domain": [0, 0.1], "nice": false}, "axis": {"orient": "right", "title": "F", "labels": false, "ticks": false, "domain": false, "titleAngle": 0, "titleX": -214, "titleY": -47, "titleAlign": "left", "titleBaseline": "middle", "titleFontWeight": "normal", "titleFontSize": 21}},
     "detail": {"field": "c"},
     "strokeDash": {"field": "d", "type": "nominal", "scale": {"domain": ["s", "d", "o"], "range": [[1, 0], [5, 3], [2, 2]]}, "legend": null}}},
   {"data": {"name": "err"}, "transform": [{"filter": "datum.p==='F'"}],
    "mark": {"type": "errorbar", "ticks": true, "color": "#777", "thickness": 1},
    "encoding": {
     "x": {"field": "x", "type": "quantitative", "scale": {"domain": [0, 0.03], "nice": false}, "axis": null},
     "y": {"field": "lo", "type": "quantitative", "scale": {"domain": [0, 0.1], "nice": false}, "axis": {"orient": "right", "title": "+ CXCR4-Venus", "labels": false, "ticks": false, "domain": false, "titleAngle": 0, "titleX": -66, "titleY": -33, "titleAlign": "left", "titleBaseline": "middle", "titleFontWeight": "normal", "titleFontSize": 8}},
     "y2": {"field": "hi"}}},
   {"data": {"name": "pts"}, "transform": [{"filter": "datum.p==='F'"}],
    "mark": {"type": "point", "size": 42, "strokeWidth": 1.2, "opacity": 1},
    "encoding": {
     "x": {"field": "x", "type": "quantitative", "scale": {"domain": [0, 0.03], "nice": false}, "axis": {"orient": "bottom", "values": [0, 0.01, 0.02, 0.03], "format": ".2f", "title": "Venus / RLuc8"}},
     "y": {"field": "y", "type": "quantitative", "scale": {"domain": [0, 0.1], "nice": false}, "axis": {"orient": "left", "values": [0, 0.025, 0.05, 0.075, 0.1], "format": ".3f", "title": "BRET ratio"}},
     "shape": {"field": "g", "type": "nominal", "scale": {"domain": ["fc","oc","os","fs","ot","ft","st"], "range": ["circle","circle","square","square","triangle-up","triangle-up","M0,-1L0,1M-0.87,-0.5L0.87,0.5M-0.87,0.5L0.87,-0.5"]}, "legend": null},
     "fill": {"field": "g", "type": "nominal", "scale": {"domain": ["fc","oc","os","fs","ot","ft","st"], "range": ["#000","transparent","transparent","#000","transparent","#000","transparent"]}, "legend": null},
     "stroke": {"field": "g", "type": "nominal", "scale": {"domain": ["fc","oc","os","fs","ot","ft","st"], "range": ["#000","#808080","#808080","#000","#808080","#000","#707070"]}, "legend": null}}}
  ]}
 ], "spacing": 63, "bounds": "flush"}
]
}
